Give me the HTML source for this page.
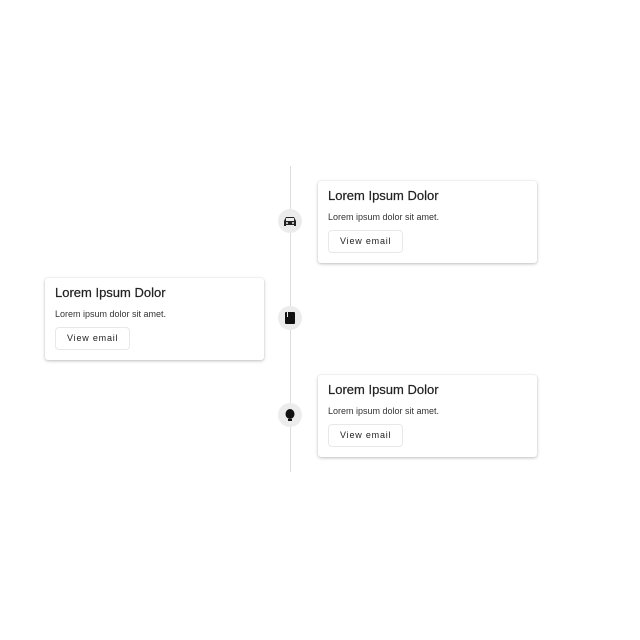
<!DOCTYPE html>
<html><head><style>
body{margin:0;width:640px;height:640px;background:#fff;font-family:"Liberation Sans",sans-serif;position:relative;overflow:hidden}
.line{position:absolute;left:290px;top:166px;width:1px;height:306px;background:#ddd}
.dot{position:absolute;left:278px;width:24px;height:24px;border-radius:50%;background:#ececec;display:flex;align-items:center;justify-content:center}
.card{position:absolute;width:219px;height:82px;background:#fff;border-radius:3px;box-shadow:0 1px 3px rgba(0,0,0,.25),0 0 1px rgba(0,0,0,.1);box-sizing:border-box;padding:0 10px}
.t{font-size:13px;color:#222;margin-top:7px;line-height:16px;-webkit-text-stroke:0.2px #222}
.s{font-size:9px;color:#333;margin-top:8px;line-height:11px}
.b{display:inline-block;margin-top:7px;border:1px solid #e8e8e8;border-radius:4px;font-size:9px;letter-spacing:.8px;color:#222;padding:0 11px;height:21px;line-height:21px}
</style></head><body>
<div class="line"></div>
<div class="dot" style="top:209px"><svg width="12" height="10" viewBox="0 0 12 10"><path d="M2 1h8l2 4v5h-2v-1H2v1H0V5z" fill="#222"/><rect x="2" y="2" width="8" height="3" fill="#ececec"/><circle cx="3" cy="7" r="1" fill="#ececec"/><circle cx="9" cy="7" r="1" fill="#ececec"/></svg></div>
<div class="dot" style="top:306px"><svg width="10" height="12"><rect x="0" y="0" width="10" height="12" rx="1" fill="#111"/><rect x="2" y="0" width="1" height="5" fill="#ececec"/></svg></div>
<div class="dot" style="top:403px"><svg width="10" height="13"><ellipse cx="5" cy="5" rx="4.5" ry="5" fill="#111"/><rect x="3" y="10" width="4" height="2" fill="#111"/></svg></div>
<div class="card" style="left:318px;top:181px"><div class="t">Lorem Ipsum Dolor</div><div class="s">Lorem ipsum dolor sit amet.</div><div class="b">View email</div></div>
<div class="card" style="left:45px;top:278px"><div class="t">Lorem Ipsum Dolor</div><div class="s">Lorem ipsum dolor sit amet.</div><div class="b">View email</div></div>
<div class="card" style="left:318px;top:375px"><div class="t">Lorem Ipsum Dolor</div><div class="s">Lorem ipsum dolor sit amet.</div><div class="b">View email</div></div>
</body></html>
